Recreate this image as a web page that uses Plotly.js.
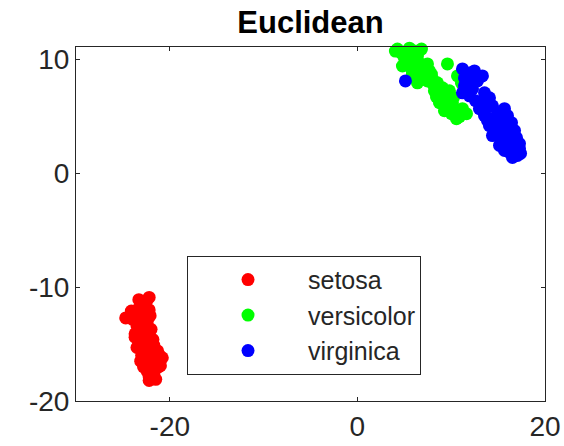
<!DOCTYPE html>
<html>
<head>
<meta charset="utf-8">
<script src="https://cdn.plot.ly/plotly-3.0.1.min.js"></script>
<style>html,body{margin:0;padding:0;background:#fff;}#chart{width:564px;height:446px;}</style>
</head>
<body>
<div id="chart"></div>
<script>
// t-SNE embedding of the iris data (Euclidean distance)
const speciesNames = ['setosa', 'versicolor', 'virginica'];
const speciesColors = ['#ff0000', '#00ff00', '#0000ff'];

const setosaX = [-22.2,-23.3,-22.7,-23.5,-22.2,-24.7,-24.0,-23.0,-22.4,-23.5,-22.7,-22.0,-23.7,-22.9,-22.2,-23.3,-22.4,-21.7,-23.5,-22.6,-21.9,-21.1,-23.0,-22.2,-21.4,-20.8,-22.7,-22.0,-21.2,-22.4,-21.7,-22.2,-21.5,-22.2,-22.8,-23.7,-21.3,-23.1,-21.8,-22.5,-23.4,-22.1,-22.9,-21.4,-22.3,-21.9,-21.0,-22.8,-24.1,-22.5];
const setosaY = [-10.9,-11.1,-11.5,-12.0,-12.0,-12.7,-12.8,-12.7,-13.0,-13.4,-13.5,-13.7,-14.1,-14.2,-14.4,-14.8,-14.9,-15.1,-15.3,-15.5,-15.6,-16.0,-16.0,-16.2,-16.3,-16.2,-16.7,-16.9,-17.0,-17.4,-17.6,-17.9,-18.1,-18.2,-12.3,-14.4,-15.6,-16.5,-14.6,-13.9,-13.0,-12.5,-15.1,-16.7,-17.0,-17.7,-16.9,-17.0,-12.1,-11.3];

const versicolorX = [4.27,5.55,6.83,5.01,6.40,5.33,6.61,7.47,4.80,9.60,5.87,6.93,7.89,6.40,7.47,8.53,9.07,8.21,8.96,9.60,8.75,9.49,10.13,9.28,10.03,10.67,11.63,10.56,11.20,10.67,11.09,4.69,6.08,5.76,7.15,8.00,8.43,9.81,7.68,6.29,5.33,8.75,9.81,10.88,9.39,8.11,7.25,4.05,10.24,6.19];
const versicolorY = [10.92,11.0,10.92,10.13,10.31,9.61,9.69,9.61,9.43,9.61,8.73,8.82,8.73,7.95,8.12,7.95,7.51,7.25,6.81,6.64,6.20,5.94,6.20,5.50,5.24,5.33,5.24,4.80,5.68,8.56,7.95,10.57,10.74,9.17,9.17,8.30,6.72,7.25,9.00,9.87,10.31,7.07,5.68,4.98,6.38,7.77,8.47,10.74,6.64,8.38];

const virginicaX = [5.12,11.2,12.48,13.33,11.41,12.27,11.95,13.55,13.23,13.76,14.4,15.68,16.0,13.55,14.61,15.36,16.43,14.08,14.83,15.68,16.75,14.4,15.36,16.96,15.89,17.28,16.43,15.68,17.07,17.39,16.53,17.07,11.41,12.8,11.2,12.59,14.08,15.15,13.87,16.21,15.15,16.75,11.95,13.01,14.61,16.0,17.28,16.21,11.73,16.64];
const virginicaY = [8.12,9.17,9.0,8.56,7.69,7.42,6.81,7.07,6.2,5.76,5.94,5.68,5.07,5.07,4.89,4.63,4.45,4.19,3.76,4.02,3.76,3.32,3.06,3.14,2.62,2.62,2.18,2.01,1.83,1.75,1.4,1.57,8.38,8.12,7.07,6.38,6.64,5.33,4.63,3.49,2.45,2.88,8.82,5.68,4.19,3.06,2.18,1.83,8.12,1.48];

const xTickVals = [-20, 0, 20];
const xTickText = ['-20', '0', '20'];
const yTickVals = [-20, -10, 0, 10];
const yTickText = ['-20', '-10', '0', '10'];

const seriesX = [setosaX, versicolorX, virginicaX];
const seriesY = [setosaY, versicolorY, virginicaY];

const traces = speciesNames.map((name, i) => ({
  type: 'scatter',
  mode: 'markers',
  name: name,
  x: seriesX[i],
  y: seriesY[i],
  cliponaxis: false,
  marker: {color: speciesColors[i], size: 13, line: {width: 0}}
}));

const axisCommon = {
  showgrid: false,
  zeroline: false,
  showline: true,
  linecolor: '#262626',
  linewidth: 1,
  mirror: 'ticks',
  ticks: 'inside',
  ticklen: 4,
  tickcolor: '#262626',
  tickfont: {family: 'Liberation Sans, Arial, sans-serif', size: 28, color: '#262626'},
  fixedrange: true
};

const layout = {
  width: 564,
  height: 446,
  margin: {l: 76, r: 19, t: 47, b: 45, pad: 0},
  paper_bgcolor: '#ffffff',
  plot_bgcolor: '#ffffff',
  title: {
    text: '<b>Euclidean</b>',
    font: {family: 'Liberation Sans, Arial, sans-serif', size: 31, color: '#000000'},
    xref: 'paper', x: 0.5, xanchor: 'center',
    yref: 'paper', y: 1, yanchor: 'bottom',
    pad: {b: 14}
  },
  xaxis: Object.assign({}, axisCommon, {
    range: [-30, 20], tickvals: xTickVals, ticktext: xTickText
  }),
  yaxis: Object.assign({}, axisCommon, {
    range: [-20, 11.1], tickvals: yTickVals, ticktext: yTickText
  }),
  showlegend: true,
  legend: {
    x: 0.2367, xanchor: 'left',
    y: 0.41, yanchor: 'top',
    bgcolor: '#ffffff',
    bordercolor: '#262626',
    borderwidth: 1,
    itemwidth: 110,
    font: {family: 'Liberation Sans, Arial, sans-serif', size: 25, color: '#262626'}
  }
};

Plotly.newPlot('chart', traces, layout, {displayModeBar: false, staticPlot: true});
</script>
</body>
</html>
